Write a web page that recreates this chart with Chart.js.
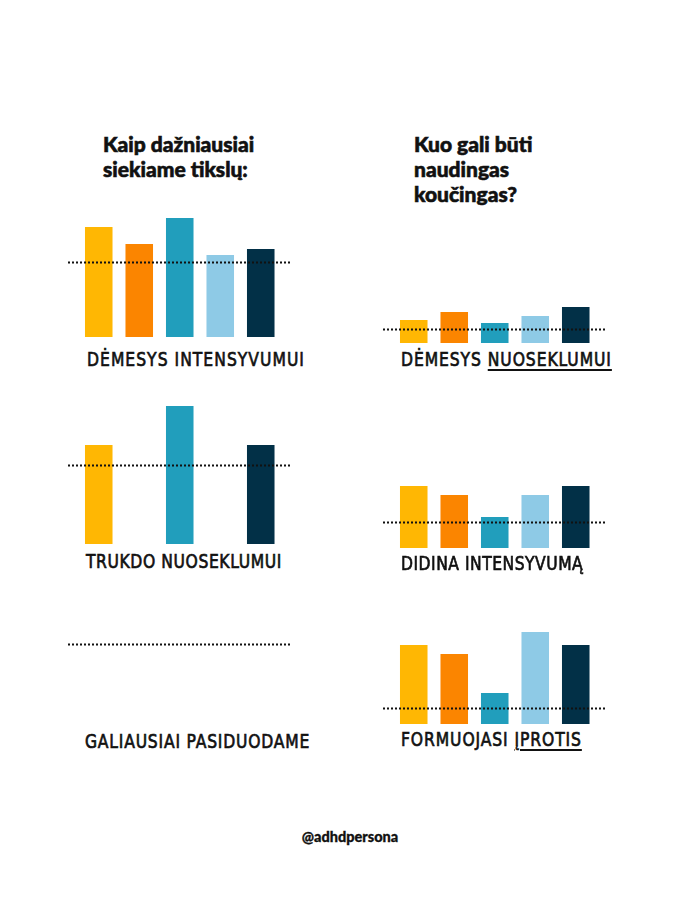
<!DOCTYPE html>
<html>
<head>
<meta charset="utf-8">
<script src="https://cdn.jsdelivr.net/npm/chart.js@4/dist/chart.umd.min.js"></script>
<style>
  html,body{margin:0;padding:0;background:#fff;}
  #page{position:relative;width:700px;height:900px;overflow:hidden;}
  canvas{position:absolute;}
  .title{position:absolute;font-family:Lato,"Open Sans",sans-serif;font-weight:900;font-size:21px;line-height:25px;color:#111;-webkit-text-stroke:0.6px #111;}
  .lbl{position:absolute;font-family:"DejaVu Sans",sans-serif;font-size:19px;line-height:20px;color:#111;white-space:nowrap;
       -webkit-text-stroke:0.7px #111;transform-origin:0 0;}
  .lbl u{text-decoration-thickness:2px;text-underline-offset:3px;}
  #foot{position:absolute;left:0;width:700px;top:828px;text-align:center;font-family:Lato,sans-serif;font-weight:900;font-size:14.5px;color:#111;-webkit-text-stroke:0.3px #111;}
</style>
</head>
<body>
<div id="page">
  <div class="title" style="left:103px;top:131px;">Kaip dažniausiai<br>siekiame tikslų:</div>
  <div class="title" style="left:414px;top:131px;">Kuo gali būti<br>naudingas<br>koučingas?</div>
  <div id="foot">@adhdpersona</div>
</div>
<script>
// five unlabeled categories, one colour each
const categories=['1','2','3','4','5'];
const colors=['#FFB703','#FB8500','#219EBC','#8ECAE6','#023047'];

// bar heights (same unit in every panel)
const attentionNow=[110,93,119,82,88];
const attentionCoach=[23,31,20,27,36];
const consistencyNow=[99,null,138,null,99];
const intensityCoach=[62,53,31,53,62];
const giveUpNow=[0,0,0,0,0];
const habitCoach=[79,70,31,92,79];

// dotted reference level for each panel
const refAttentionNow=75.5, refAttentionCoach=14;
const refConsistencyNow=79, refIntensityCoach=26;
const refGiveUpNow=78, refHabitCoach=16;

const labels=[
  {html:'DĖMESYS INTENSYVUMUI', x:87, y:348, w:218},
  {html:'DĖMESYS <u>NUOSEKLUMUI</u>', x:401, y:348, w:211},
  {html:'TRUKDO NUOSEKLUMUI', x:86, y:550, w:196},
  {html:'DIDINA INTENSYVUMĄ', x:401, y:552, w:182},
  {html:'GALIAUSIAI PASIDUODAME', x:85, y:730, w:225},
  {html:'FORMUOJASI <u>ĮPROTIS</u>', x:401, y:728, w:181}
];

const panels=[
  {id:'c1', data:attentionNow, ref:refAttentionNow, left:68, base:337},
  {id:'c2', data:attentionCoach, ref:refAttentionCoach, left:383, base:343},
  {id:'c3', data:consistencyNow, ref:refConsistencyNow, left:68, base:544},
  {id:'c4', data:intensityCoach, ref:refIntensityCoach, left:383, base:548},
  {id:'c5', data:giveUpNow, ref:refGiveUpNow, left:68, base:722},
  {id:'c6', data:habitCoach, ref:refHabitCoach, left:383, base:724}
];

const YMAX=150, W=223, PADL=10.5, PADR=10, SQUEEZE=0.82;

const dottedLine={
  id:'dottedLine',
  afterDatasetsDraw(chart,args,opts){
    const {ctx,chartArea,scales}=chart;
    const y=Math.round(scales.y.getPixelForValue(opts.value))+0.5;
    ctx.save();
    ctx.strokeStyle='#111';
    ctx.lineWidth=2;
    ctx.setLineDash([2,2]);
    ctx.beginPath();
    ctx.moveTo(chartArea.left-PADL,y);
    ctx.lineTo(chartArea.right+PADR,y);
    ctx.stroke();
    ctx.restore();
  }
};

function makePanel(p){
  const page=document.getElementById('page');
  const cv=document.createElement('canvas');
  cv.id=p.id; cv.width=W; cv.height=YMAX;
  cv.style.left=p.left+'px'; cv.style.top=(p.base-YMAX)+'px';
  page.appendChild(cv);
  new Chart(cv.getContext('2d'),{
    type:'bar',
    data:{labels:categories,datasets:[{data:p.data,backgroundColor:colors,borderWidth:0,
      categoryPercentage:1,barPercentage:0.68}]},
    options:{
      responsive:false,animation:false,
      layout:{padding:{left:PADL,right:PADR,top:0,bottom:0}},
      plugins:{legend:{display:false},tooltip:{enabled:false},dottedLine:{value:p.ref}},
      scales:{
        x:{display:false},
        y:{display:false,min:0,max:YMAX}
      }
    },
    plugins:[dottedLine]
  });
}

function makeLabels(){
  const page=document.getElementById('page');
  labels.forEach(l=>{
    const d=document.createElement('div');
    d.className='lbl'; d.innerHTML=l.html;
    d.style.left=l.x+'px'; d.style.top=(l.y+1)+'px';
    d.style.transform='scaleX('+SQUEEZE+')';
    page.appendChild(d);
    const nat=d.offsetWidth;
    const n=d.textContent.length;
    d.style.letterSpacing=((l.w/SQUEEZE-nat)/n)+'px';
  });
}

panels.forEach(makePanel);
makeLabels();
</script>
</body>
</html>
